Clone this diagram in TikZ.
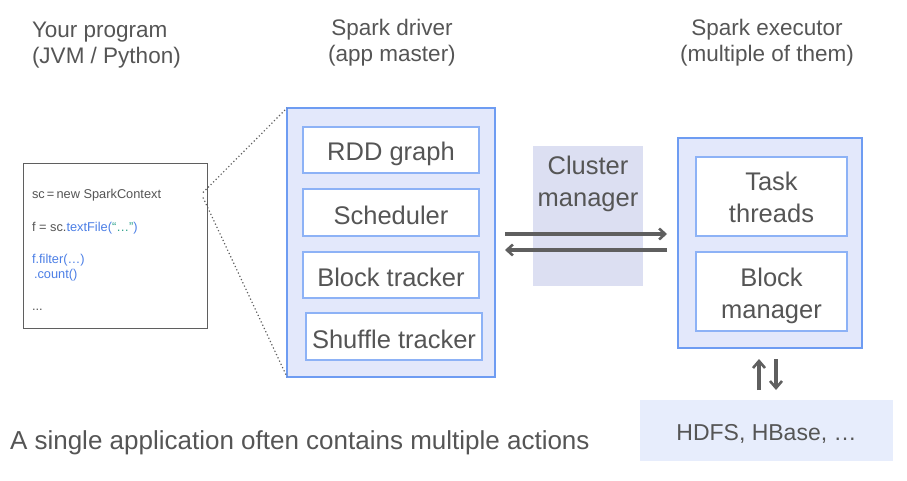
\documentclass[tikz,border=0pt]{standalone}
\usepackage{fontspec}
\setmainfont{Liberation Sans}
\usetikzlibrary{arrows.meta,calc}
\definecolor{txt}{HTML}{555555}
\definecolor{outerfill}{HTML}{E3E8FB}
\definecolor{outerdraw}{HTML}{6E9CF2}
\definecolor{innerdraw}{HTML}{8DB2F6}
\definecolor{cmfill}{HTML}{DCDFF2}
\definecolor{hdfsfill}{HTML}{E7EDFC}
\definecolor{arrowc}{HTML}{5F5F5F}
\definecolor{codeblue}{HTML}{4C7FE6}
\definecolor{codegreen}{HTML}{2FA38C}
\newcommand{\dn}[2]{\raisebox{-#1}[\height][\depth]{#2}}
\newcommand{\two}[2]{\begin{tabular}{@{}c@{}}#1\\#2\end{tabular}}
\begin{document}
\begin{tikzpicture}[x=1pt,y=-1pt,
  every node/.style={text=txt,inner sep=0pt,outer sep=0pt},
  outerbox/.style={draw=outerdraw,fill=outerfill,line width=2.5pt,minimum width=#1},
  innerbox/.style={draw=innerdraw,fill=white,line width=1.5pt,font=\fontsize{25.5}{32}\selectfont,align=center},
  title/.style={font=\fontsize{22.5}{26}\selectfont,align=center},
  codetxt/.style={font=\fontsize{12.8}{15}\selectfont,anchor=west},
  arr/.style={draw=arrowc,line width=3.2pt,-{Straight Barb[length=6pt,width=11pt,line width=2.6pt]}},
  varr/.style={draw=arrowc,line width=3.2pt,-{Straight Barb[length=7pt,width=12pt,line width=2.6pt]}},
  dots/.style={draw=arrowc,line width=1.2pt,dash pattern=on 1.2pt off 2.4pt}
]
\useasboundingbox (0,0) rectangle (907,480);

% titles
\node[title,align=left,anchor=west] (t1) at (32,45) {Your program\\(JVM / Python)};
\node[title] (t2) at (392,42.5) {Spark driver\\(app master)};
\node[title] (t3) at (767,43) {Spark executor\\(multiple of them)};

% code box
\node[draw=arrowc,line width=1pt,fill=white,minimum width=184pt,minimum height=165pt] (code) at (115,245.5) {};
\node[codetxt] (c1) at (32,195.5) {sc\,=\,new SparkContext};
\node[codetxt] (c2) at (32,228.5) {f = sc.\textcolor{codeblue}{textFile(}\textcolor{codegreen}{“…”}\textcolor{codeblue}{)}};
\node[codetxt] (c3) at (32,260.5) {\textcolor{codeblue}{f.filter(…)}};
\node[codetxt] (c4) at (34,275.5) {\textcolor{codeblue}{.count()}};
\node[codetxt] (c5) at (32,310) {...};

% driver
\node[outerbox=208pt,minimum height=269pt] (driver) at (391,242.5) {};
\node[innerbox,minimum width=176pt,minimum height=46pt] (rdd) at (391,150) {\dn{4pt}{RDD graph}};
\node[innerbox,minimum width=176pt,minimum height=47pt] (sched) at (391,212.5) {\dn{2.5pt}{Scheduler}};
\node[innerbox,minimum width=176pt,minimum height=46pt] (btrack) at (391,275) {\dn{2.5pt}{Block tracker}};
\node[innerbox,minimum width=176pt,minimum height=47pt] (strack) at (394,336.5) {\dn{3pt}{Shuffle tracker}};

% dotted zoom lines
\draw[dots] ($(code.east)+(-4,-53)$) -- (driver.north west);
\draw[dots] ($(code.east)+(-4,-48)$) -- (driver.south west);

% cluster manager
\node[fill=cmfill,minimum width=110pt,minimum height=140pt] (cm) at (588,216) {};
\node[font=\fontsize{25.5}{32}\selectfont,align=center] (cmtext) at (588,184) {Cluster\\manager};

% executor
\node[outerbox=184pt,minimum height=210pt] (exec) at (770,243) {};
\node[innerbox,minimum width=151pt,minimum height=79pt] (task) at (771.5,196.5) {\dn{4pt}{\two{Task}{threads}}};
\node[innerbox,minimum width=151pt,minimum height=79pt] (bman) at (771.5,291.5) {\dn{4.5pt}{\two{Block}{manager}}};

% arrows driver <-> executor
\draw[arr] ($(driver.east)+(10,-8.5)$) -- ($(exec.west)+(-11,-9)$);
\draw[arr] ($(exec.west)+(-11,7)$) -- ($(driver.east)+(10,7.5)$);

% storage
\node[fill=hdfsfill,minimum width=253pt,minimum height=61pt,font=\fontsize{23}{28}\selectfont] (hdfs) at (766.5,430.5) {\dn{3.5pt}{HDFS, HBase, …}};
\draw[varr] ($(hdfs.north)+(-7.5,-10)$) -- ($(exec.south)+(-11,11)$);
\draw[varr] ($(exec.south)+(6,11)$) -- ($(hdfs.north)+(9.5,-10)$);

% bottom caption
\node[font=\fontsize{26}{30}\selectfont,anchor=west] (cap) at (10,443) {A single application often contains multiple actions};
\end{tikzpicture}
\end{document}
